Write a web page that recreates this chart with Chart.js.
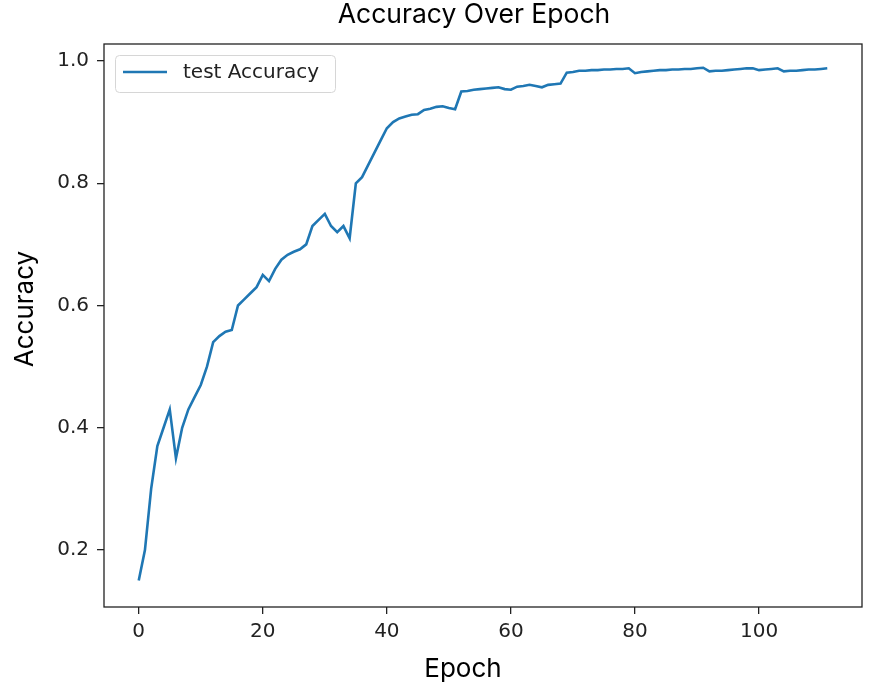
<!DOCTYPE html>
<html>
<head>
<meta charset="utf-8">
<script src="https://cdn.jsdelivr.net/npm/chart.js@4.4.1/dist/chart.umd.min.js"></script>
<style>
  html, body { margin: 0; padding: 0; background: #fff; }
  #wrap { width: 877px; height: 694px; }
</style>
</head>
<body>
<div id="wrap"><canvas id="accChart" width="877" height="694"></canvas></div>
<script>
const titleText = 'Accuracy Over Epoch';
const xLabel = 'Epoch';
const yLabel = 'Accuracy';
const seriesLabel = 'test Accuracy';
const xTicks = [0, 20, 40, 60, 80, 100];
const yTicks = [0.2, 0.4, 0.6, 0.8, 1.0];

// one value per epoch, 0..111
const testAccuracy = [
    0.15, 0.20, 0.30, 0.37, 0.40, 0.43, 0.35, 0.40, 0.43, 0.45,
    0.47, 0.50, 0.54, 0.55, 0.557, 0.56, 0.60, 0.61, 0.62, 0.63,
    0.65, 0.64, 0.66, 0.675, 0.683, 0.688, 0.692, 0.70, 0.73, 0.74,
    0.75, 0.73, 0.72, 0.73, 0.71, 0.80, 0.81, 0.83, 0.85, 0.87,
    0.89, 0.90, 0.906, 0.909, 0.912, 0.913, 0.92, 0.922, 0.925, 0.926,
    0.923, 0.921, 0.95, 0.951, 0.953, 0.954, 0.955, 0.956, 0.957, 0.954,
    0.953, 0.958, 0.959, 0.961, 0.959, 0.957, 0.961, 0.962, 0.963, 0.981,
    0.982, 0.984, 0.984, 0.985, 0.985, 0.986, 0.986, 0.987, 0.987, 0.988,
    0.980, 0.982, 0.983, 0.984, 0.985, 0.985, 0.986, 0.986, 0.987, 0.987,
    0.988, 0.989, 0.983, 0.984, 0.984, 0.985, 0.986, 0.987, 0.988, 0.988,
    0.985, 0.986, 0.987, 0.988, 0.983, 0.984, 0.984, 0.985, 0.986, 0.986,
    0.987, 0.988
];

const lineColor = '#1f77b4';
const inkColor = '#222222';
const tickFont = { family: 'DejaVu Sans', size: 20 };
const labelFont = 'Inter';

// frame, titles and the in-plot legend (matplotlib look)
const decorations = {
    id: 'decorations',
    afterDraw(chart) {
        const ctx = chart.ctx;
        const area = chart.chartArea;
        ctx.save();

        // legend box
        const lx = 115.5, ly = 55.5, lw = 220, lh = 37;
        ctx.beginPath();
        ctx.roundRect(lx, ly, lw, lh, 4);
        ctx.fillStyle = 'rgba(255,255,255,0.85)';
        ctx.fill();
        ctx.strokeStyle = '#d6d6d6';
        ctx.lineWidth = 1;
        ctx.stroke();
        ctx.beginPath();
        ctx.moveTo(123, 72);
        ctx.lineTo(167, 72);
        ctx.strokeStyle = lineColor;
        ctx.lineWidth = 2.6;
        ctx.stroke();
        ctx.fillStyle = inkColor;
        ctx.font = '20px "DejaVu Sans"';
        ctx.textAlign = 'left';
        ctx.textBaseline = 'middle';
        ctx.fillText(chart.data.datasets[0].label, 183, 73);

        // axes frame
        ctx.strokeStyle = inkColor;
        ctx.lineWidth = 1.3;
        ctx.strokeRect(area.left, area.top, area.right - area.left, area.bottom - area.top);

        // title and axis labels
        ctx.fillStyle = '#000';
        ctx.textAlign = 'center';
        ctx.textBaseline = 'alphabetic';
        ctx.font = '26.5px ' + labelFont;
        ctx.fillText(titleText, 474, 23);
        ctx.font = '26px ' + labelFont;
        ctx.fillText(xLabel, 463, 677);
        ctx.translate(33, 309);
        ctx.rotate(-Math.PI / 2);
        ctx.fillText(yLabel, 0, 0);
        ctx.restore();
    }
};

new Chart('accChart', {
    type: 'line',
    data: {
        datasets: [{
            label: seriesLabel,
            data: testAccuracy.map((v, i) => ({ x: i, y: v })),
            borderColor: lineColor,
            borderWidth: 2.6,
            pointRadius: 0,
            tension: 0,
            fill: false
        }]
    },
    options: {
        responsive: false,
        animation: false,
        layout: { padding: { top: 44, right: 15, bottom: 0, left: 0 } },
        plugins: {
            legend: { display: false },
            title: { display: false },
            tooltip: { enabled: false }
        },
        scales: {
            x: {
                type: 'linear',
                min: -5.6,
                max: 116.6,
                afterBuildTicks: (axis) => { axis.ticks = xTicks.map(v => ({ value: v })); },
                afterFit: (axis) => { axis.height = 87; },
                border: { display: false },
                grid: { drawOnChartArea: false, drawTicks: true, tickLength: 7, color: inkColor, lineWidth: 1.3 },
                ticks: { color: inkColor, font: tickFont, padding: 6, maxRotation: 0 }
            },
            y: {
                type: 'linear',
                min: 0.1068,
                max: 1.0278,
                afterBuildTicks: (axis) => { axis.ticks = yTicks.map(v => ({ value: v })); },
                afterFit: (axis) => { axis.width = 104; },
                border: { display: false },
                grid: { drawOnChartArea: false, drawTicks: true, tickLength: 7, color: inkColor, lineWidth: 1.3 },
                ticks: { color: inkColor, font: tickFont, padding: 8, callback: (v) => v.toFixed(1) }
            }
        }
    },
    plugins: [decorations]
});
</script>
</body>
</html>
